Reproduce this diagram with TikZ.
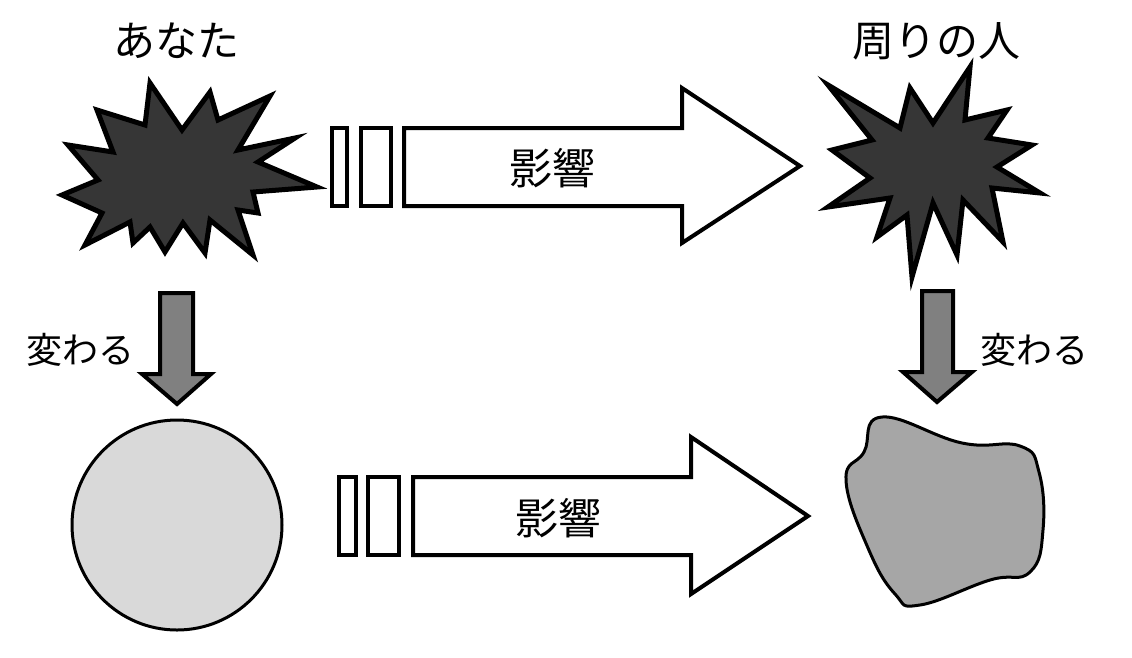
\documentclass[tikz,border=0pt]{standalone}
\usepackage{fontspec}
\newfontfamily\jpfont{Noto Sans CJK JP}
\begin{document}
\begin{tikzpicture}[x=1pt,y=-1pt,
  burst/.style={fill=burstgray,draw=black,line width=5pt,line join=miter,miter limit=10},
  bigarrow/.style={fill=white,draw=black,line width=4pt,line join=miter},
  downarrow/.style={fill=arrowgray,draw=black,line width=4pt,line join=miter},
  title/.style={font=\jpfont\fontsize{42}{50}\selectfont,inner sep=0pt},
  inftext/.style={font=\jpfont\fontsize{43}{50}\selectfont,inner sep=0pt},
  chgtext/.style={font=\jpfont\fontsize{36}{42}\selectfont,inner sep=0pt}]
\definecolor{burstgray}{HTML}{363636}
\definecolor{arrowgray}{HTML}{808080}
\definecolor{circgray}{HTML}{D9D9D9}
\definecolor{blobgray}{HTML}{A6A6A6}
\useasboundingbox (0,0) rectangle (1132,657);
\fill[white] (0,0) rectangle (1132,657);

% titles
\node[title] (you) at (176,41) {あなた};
\node[title] (others) at (936,41) {周りの人};

% left starburst
\draw[burst] (150,83) -- (182,130) -- (210,92) -- (218,120) -- (270,96) -- (238,150)
  -- (295,138) -- (258,162) -- (317,187) -- (253,192) -- (258,213) -- (238,210)
  -- (253,255) -- (210,220) -- (205,253) -- (183,223) -- (165,252) -- (150,227)
  -- (133,243) -- (130,222) -- (85,245) -- (102,213) -- (62,195) -- (98,180)
  -- (68,145) -- (113,152) -- (97,110) -- (145,125) -- cycle;

% right starburst
\draw[burst] (828,85) -- (900,128) -- (910,88) -- (933,123) -- (970,67) -- (965,120)
  -- (1007,110) -- (988,138) -- (1032,145) -- (997,167) -- (1040,193) -- (992,188)
  -- (1003,242) -- (963,200) -- (957,255) -- (933,203) -- (912,277) -- (907,215)
  -- (877,237) -- (890,198) -- (828,207) -- (870,178) -- (832,150) -- (872,140) -- cycle;

% top influence arrow
\draw[bigarrow] (332,128) rectangle (347,206);
\draw[bigarrow] (361,128) rectangle (391,206);
\draw[bigarrow] (404,128) -- (682,128) -- (682,88) -- (800,166) -- (682,243) -- (682,206) -- (404,206) -- cycle;
\node[inftext] (inf1) at (552,168) {影響};

% bottom influence arrow
\draw[bigarrow] (339,477) rectangle (356,555);
\draw[bigarrow] (368,477) rectangle (399,555);
\draw[bigarrow] (413,477) -- (691,477) -- (691,437) -- (808,516) -- (691,594) -- (691,555) -- (413,555) -- cycle;
\node[inftext] (inf2) at (558,518) {影響};

% down arrows
\draw[downarrow] (160,293) -- (193,293) -- (193,374) -- (211,374) -- (177,404) -- (142,374) -- (160,374) -- cycle;
\node[chgtext] (chg1) at (81,350) {変わる};
\draw[downarrow] (922,291) -- (953,291) -- (953,372) -- (972,372) -- (937,402) -- (903,372) -- (922,372) -- cycle;
\node[chgtext] (chg2) at (1034,350) {変わる};

% circle
\draw[fill=circgray,draw=black,line width=3pt] (177,525) circle (105);

% blob
\draw[fill=blobgray,draw=black,line width=3pt] plot[smooth cycle,tension=0.75] coordinates {
  (882,417) (962,443) (1020,446) (1039,472) (1043,530) (1030,572)
  (990,580) (920,605) (895,594) (868,548) (846,480) (864,452)};
\end{tikzpicture}
\end{document}
